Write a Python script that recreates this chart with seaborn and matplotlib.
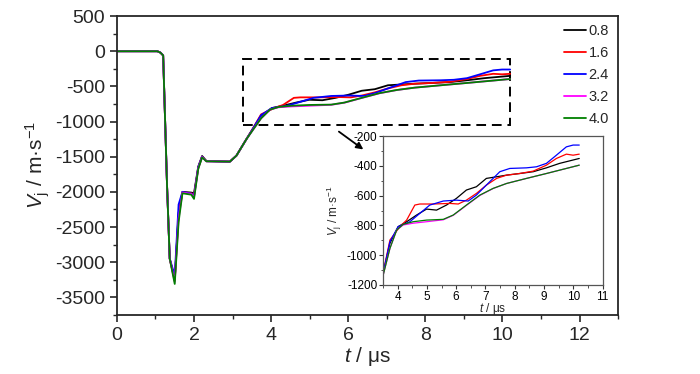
import numpy as np
import pandas as pd
import matplotlib
matplotlib.use("Agg")
import matplotlib.pyplot as plt
import seaborn as sns
from matplotlib.patches import Rectangle
from matplotlib.ticker import MultipleLocator

# --------------------------------------------------
# Data
# --------------------------------------------------

labels = ["0.8", "1.6", "2.4", "3.2", "4.0"]
colors = ["black", "red", "blue", "magenta", "green"]

# shared start of every curve
t_start = [0.0, 1.05, 1.13, 1.20, 1.30, 1.37]
v_start = [0, 0, -20, -60, -1900, -2950]

# dip / plateau region
t_dip = [1.50, 1.60, 1.70, 1.93, 2.00, 2.11, 2.21, 2.32, 2.93, 3.10, 3.36]
v_dip_08 = [-3250, -2300, -2000, -2010, -2020, -1640, -1490, -1560, -1570, -1485, -1250]
v_dip_16 = [-3260, -2330, -2005, -2020, -2050, -1660, -1500, -1565, -1570, -1485, -1250]
v_dip_24 = [-3190, -2180, -2000, -2025, -2060, -1650, -1500, -1565, -1570, -1485, -1250]
v_dip_32 = [-3280, -2380, -2010, -2030, -2080, -1665, -1505, -1565, -1570, -1485, -1250]
v_dip_40 = [-3310, -2430, -2020, -2040, -2100, -1675, -1510, -1565, -1570, -1485, -1250]

# late region (inset)
t_late_08 = [3.51, 3.74, 4.02, 4.31, 4.65, 4.99, 5.33, 5.67, 6.01, 6.35, 6.69,
             7.03, 7.38, 7.72, 8.17, 8.63, 9.08, 9.53, 10.2]
v_late_08 = [-1120, -920, -808, -775, -730, -690, -697, -663, -618, -562, -540,
             -484, -473, -462, -451, -439, -413, -383, -350]

t_late_16 = [3.51, 3.74, 4.08, 4.31, 4.59, 4.76, 5.22, 5.78, 6.07, 6.35, 6.69,
             7.03, 7.38, 7.72, 8.17, 8.63, 9.08, 9.42, 9.76, 9.99, 10.2]
v_late_16 = [-1115, -898, -808, -764, -663, -656, -656, -652, -656, -630, -585,
             -529, -484, -462, -451, -435, -395, -350, -321, -328, -321]

t_late_24 = [3.51, 3.74, 4.02, 4.42, 4.76, 5.10, 5.56, 6.01, 6.41, 6.69, 7.03,
             7.49, 7.83, 8.40, 8.74, 9.08, 9.42, 9.76, 9.99, 10.2]
v_late_24 = [-1118, -909, -808, -775, -719, -663, -636, -630, -636, -596, -529,
             -439, -417, -413, -406, -383, -328, -272, -260, -260]

t_late_32 = [3.51, 3.74, 3.97, 4.19, 4.53, 4.99, 5.56, 5.90, 6.35, 6.81, 7.26,
             7.72, 8.40, 9.08, 9.76, 10.2]
v_late_32 = [-1133, -954, -831, -797, -785, -775, -762, -732, -665, -598, -552,
             -518, -484, -451, -417, -395]

t_late_40 = [3.51, 3.74, 3.97, 4.19, 4.53, 4.99, 5.56, 5.90, 6.35, 6.81, 7.26,
             7.72, 8.40, 9.08, 9.76, 10.2]
v_late_40 = [-1133, -954, -831, -793, -775, -764, -759, -730, -663, -596, -551,
             -518, -484, -451, -417, -395]

v_dips = [v_dip_08, v_dip_16, v_dip_24, v_dip_32, v_dip_40]
t_lates = [t_late_08, t_late_16, t_late_24, t_late_32, t_late_40]
v_lates = [v_late_08, v_late_16, v_late_24, v_late_32, v_late_40]

frames = []
for lab, vd, tl, vl in zip(labels, v_dips, t_lates, v_lates):
    frames.append(pd.DataFrame({
        "t": t_start + t_dip + tl,
        "v": v_start + vd + vl,
        "case": lab
    }))
df = pd.concat(frames, ignore_index=True)
palette = dict(zip(labels, colors))

# --------------------------------------------------
# Style
# --------------------------------------------------

sns.set_style("ticks")
plt.rcParams["font.family"] = ["Liberation Sans", "DejaVu Sans"]
plt.rcParams["mathtext.fontset"] = "custom"
plt.rcParams["mathtext.rm"] = "Liberation Sans"
plt.rcParams["mathtext.it"] = "Liberation Sans:italic"
plt.rcParams["axes.unicode_minus"] = False

fig = plt.figure(figsize=(7, 3.74), dpi=100)
ax = fig.add_axes([0.167, 0.158, 0.716, 0.799])

sns.lineplot(data=df, x="t", y="v", hue="case", hue_order=labels,
             palette=palette, estimator=None, sort=False,
             linewidth=1.3, ax=ax)

ax.set_xlim(0, 13)
ax.set_ylim(-3750, 500)
ax.xaxis.set_major_locator(MultipleLocator(2))
ax.xaxis.set_minor_locator(MultipleLocator(1))
ax.yaxis.set_major_locator(MultipleLocator(500))
ax.yaxis.set_minor_locator(MultipleLocator(250))
ax.tick_params(which="major", direction="out", length=5, width=1.2,
               labelsize=14, top=False, right=False)
ax.tick_params(which="minor", direction="out", length=3, width=1.0,
               top=False, right=False)
for sp in ax.spines.values():
    sp.set_linewidth(1.3)
    sp.set_visible(True)

ax.set_xlabel(r"$t$ / μs", fontsize=15, labelpad=1)
ax.set_ylabel(r"$V_{\mathrm{j}}$ / m·s$^{-1}$", fontsize=15, labelpad=2)

leg = ax.legend(loc="upper right", bbox_to_anchor=(1.008, 1.018),
                frameon=False, fontsize=10.5, handlelength=1.5,
                handletextpad=0.2, labelspacing=0.56)
for line in leg.get_lines():
    line.set_linewidth(1.3)

# dashed zoom box and arrow
ax.add_patch(Rectangle((3.27, -1050), 6.92, 935, fill=False,
                       edgecolor="black", linestyle=(0, (5, 3)),
                       linewidth=1.4))
ax.annotate("", xy=(6.45, -1420), xytext=(5.7, -1120),
            arrowprops=dict(arrowstyle="-|>", color="black", lw=1.3,
                            mutation_scale=10))

# --------------------------------------------------
# Inset
# --------------------------------------------------

ins = fig.add_axes([0.547, 0.238, 0.314, 0.398])
sns.lineplot(data=df, x="t", y="v", hue="case", hue_order=labels,
             palette=palette, estimator=None, sort=False,
             linewidth=0.9, ax=ins, legend=False)

ins.set_xlim(3.5, 11)
ins.set_ylim(-1200, -200)
ins.xaxis.set_major_locator(MultipleLocator(1))
ins.xaxis.set_minor_locator(MultipleLocator(0.5))
ins.yaxis.set_major_locator(MultipleLocator(200))
ins.yaxis.set_minor_locator(MultipleLocator(100))
ins.tick_params(which="major", direction="out", length=3, width=0.8,
                labelsize=8.5, pad=1, colors="#333333", labelcolor="black")
ins.tick_params(which="minor", direction="out", length=1.8, width=0.6,
                colors="#333333")
for sp in ins.spines.values():
    sp.set_linewidth(0.9)
    sp.set_color("#555555")

ins.set_xlabel(r"$t$ / μs", fontsize=8.5, labelpad=-1)
ins.set_ylabel(r"$V_{\mathrm{j}}$ / m·s$^{-1}$", fontsize=8.5, labelpad=2)

fig.savefig("out.png", dpi=100)
